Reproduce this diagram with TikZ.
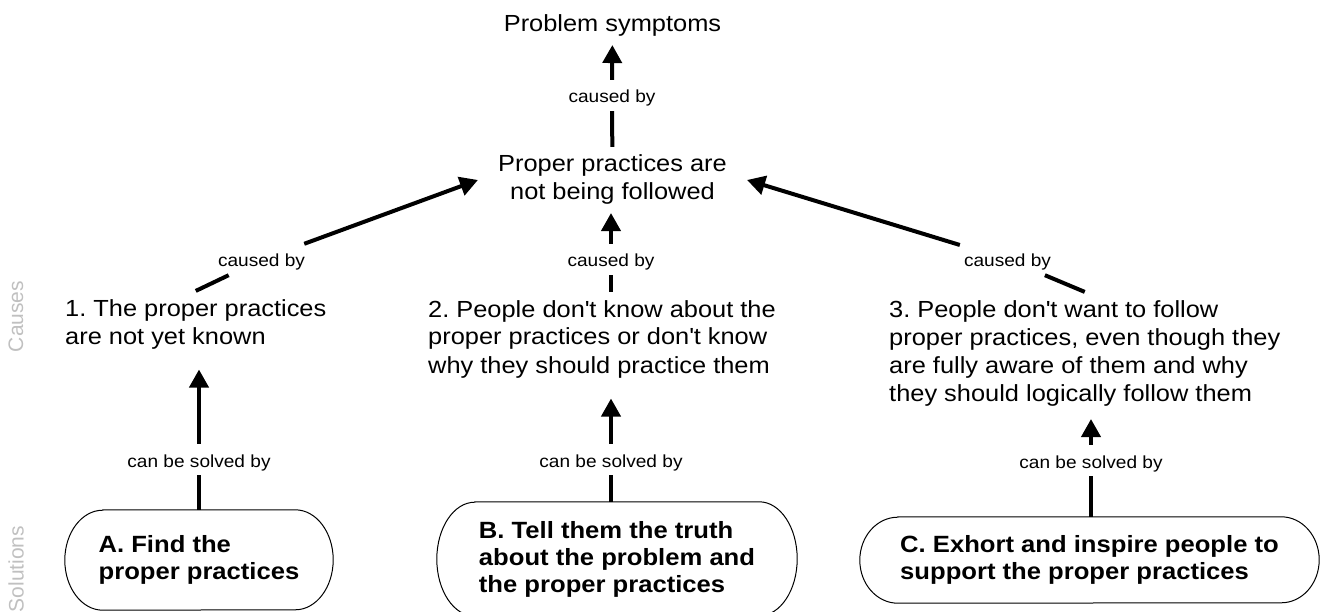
\documentclass[tikz,border=0pt]{standalone}
\usepackage{fontspec}
\setmainfont{Liberation Sans}[FakeStretch=1.09]
\newfontfamily\sidefont{Liberation Sans}
\usetikzlibrary{arrows.meta,calc}
\definecolor{sidegray}{RGB}{192,192,192}
\newcommand{\ap}{\textquotesingle}
\frenchspacing
\tikzset{
  concept/.style={align=left, inner xsep=0pt, inner ysep=8pt, font=\frenchspacing\fontsize{23.3}{28}\selectfont},
  linkphrase/.style={font=\fontsize{17.5}{21}\selectfont, text height=16pt, text depth=1pt, inner xsep=4pt, inner ysep=7pt},
  pill/.style={align=left, inner sep=0pt, font=\frenchspacing\fontsize{23.5}{27}\selectfont\bfseries},
  pillline/.style={line width=1pt, draw=black},
  conn/.style={line width=4pt},
  arr/.style={line width=4pt, -{Triangle[length=18pt,width=19pt]}},
  solvearr/.style={arr, shorten >=12.5pt},
  side/.style={font=\sidefont\fontsize{21}{24}\selectfont, text=sidegray, inner sep=0pt}
}
\begin{document}
\begin{tikzpicture}[x=1pt,y=-1pt]
\useasboundingbox (0,0) rectangle (1325,612);

% side labels
\node[side, rotate=90] (causes) at (16,316.5) {Causes};
\node[side, rotate=90] (solutions) at (16,569) {Solutions};

% concepts (base anchor = baseline of the last line)
\node[concept, anchor=base, align=center] (PS) at (612.5,32) {Problem symptoms};
\node[concept, anchor=base, align=center, inner xsep=20pt] (PP) at (612.5,200) {Proper practices are\\not being followed};
\node[concept, anchor=base west] (C1) at (65,344) {1. The proper practices\\are not yet known};
\node[concept, anchor=base west] (C2) at (428,373) {2. People don\ap t know about the\\proper practices or don\ap t know\\why they should practice them};
\node[concept, anchor=base west] (C3) at (889,401) {3. People don\ap t want to follow\\proper practices, even though they\\are fully aware of them and why\\they should logically follow them};

% solutions
\node[pill, minimum width=268pt, minimum height=100pt] (PA) at (199,560) {A. Find the\\proper practices};
\node[pill, minimum width=360pt, minimum height=114pt] (PB) at (617,559) {B. Tell them the truth\\about the problem and\\the proper practices};
\node[pill, minimum width=459pt, minimum height=86pt] (PC) at (1089.5,560) {C. Exhort and inspire people to\\support the proper practices};

\draw[pillline] ([xshift=38pt]PA.north west) -- ([xshift=-38pt]PA.north east) arc[start angle=90,end angle=-90,x radius=38pt,y radius=50pt] -- ([xshift=38pt]PA.south west) arc[start angle=270,end angle=90,x radius=38pt,y radius=50pt] -- cycle;
\draw[pillline] ([xshift=38pt]PB.north west) -- ([xshift=-38pt]PB.north east) arc[start angle=90,end angle=-90,x radius=38pt,y radius=57pt] -- ([xshift=38pt]PB.south west) arc[start angle=270,end angle=90,x radius=38pt,y radius=57pt] -- cycle;
\draw[pillline] ([xshift=38pt]PC.north west) -- ([xshift=-38pt]PC.north east) arc[start angle=90,end angle=-90,x radius=38pt,y radius=43pt] -- ([xshift=38pt]PC.south west) arc[start angle=270,end angle=90,x radius=38pt,y radius=43pt] -- cycle;

% linking phrases
\node[linkphrase, anchor=base] (L0) at (612,103) {caused by};
\node[linkphrase, anchor=base] (L1) at (261.5,267) {caused by};
\node[linkphrase, anchor=base] (L2) at (611,267) {caused by};
\node[linkphrase, anchor=base] (L3) at (1007.5,267) {caused by};
\node[linkphrase, anchor=base] (S1) at (199,467) {can be solved by};
\node[linkphrase, anchor=base] (S2) at (611,467) {can be solved by};
\node[linkphrase, anchor=base] (S3) at (1091,468) {can be solved by};

% connectors
\draw[conn] (PP) -- (L0);
\draw[arr] (L0) -- (PS);
\draw[conn] (C1.north) -- (L1);
\draw[arr] (L1) -- (PP.west);
\draw[conn] (C2.north -| L2) -- (L2);
\draw[arr] (L2) -- (L2 |- PP.south);
\draw[conn] (C3.north) -- (L3);
\draw[arr] (L3) -- (PP.east);
\draw[conn] (S1 |- PA.north) -- (S1);
\draw[solvearr] (S1) -- (S1 |- C1.south);
\draw[conn] (S2 |- PB.north) -- (S2);
\draw[solvearr] (S2) -- (S2 |- C2.south);
\draw[conn] (S3 |- PC.north) -- (S3);
\draw[solvearr, shorten >=5pt] (S3) -- (S3 |- C3.south);
\end{tikzpicture}
\end{document}
